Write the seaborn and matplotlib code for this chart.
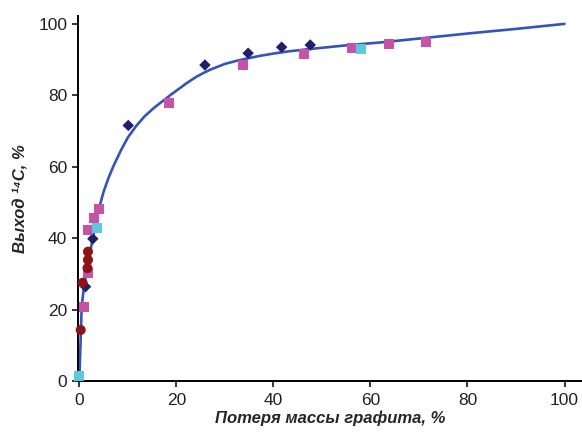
import matplotlib
matplotlib.use("Agg")
import matplotlib.pyplot as plt
import seaborn as sns
import pandas as pd

# fitted curve
curve_x = [0, 0.15, 0.35, 0.5, 0.8, 1.2, 1.6, 2, 2.7, 3.3, 4, 5, 6, 7, 8.5, 10,
           11.7, 13.5, 15.3, 17, 18.8, 20.5, 22, 24, 25.5, 27, 30, 32.5, 34.5,
           37, 40, 43, 47, 55, 62, 70, 80, 90, 100]
curve_y = [0, 6, 14.4, 20.8, 24.5, 28.4, 31.6, 34.4, 39.5, 43.5, 48, 53, 56.8,
           60.1, 64.4, 68.2, 71.4, 74.2, 76.4, 78.2, 80.1, 81.8, 83.3, 85.1, 86.2,
           87.2, 88.8, 89.7, 90.3, 91.0, 91.7, 92.3, 92.9, 94.0, 94.8, 95.9,
           97.3, 98.6, 100]

# experimental series
navy_x = [1.3, 2.8, 10.1, 25.9, 34.8, 41.7, 47.6]
navy_y = [26.5, 39.9, 71.6, 88.5, 91.8, 93.5, 94.1]

pink_x = [1.0, 1.8, 1.9, 3.1, 4.1, 18.4, 33.8, 46.4, 56.2, 63.9, 71.5]
pink_y = [20.8, 30.3, 42.4, 45.7, 48.2, 78.0, 88.5, 91.6, 93.2, 94.4, 95.0]

red_x = [0.3, 0.7, 1.7, 1.8, 1.8]
red_y = [14.4, 27.6, 31.7, 34.0, 36.3]

cyan_x = [0.0, 3.6, 58.0]
cyan_y = [1.5, 42.9, 92.9]

x_ticks = [0, 20, 40, 60, 80, 100]
y_ticks = [0, 20, 40, 60, 80, 100]

sns.set_style("ticks")
plt.rcParams['font.family'] = ['Liberation Sans', 'DejaVu Sans']

fig = plt.figure(figsize=(5.82, 4.33), dpi=100)
ax = fig.add_axes([0.1345, 0.119, 0.8655, 0.844])

sns.lineplot(x=curve_x, y=curve_y, ax=ax, color='#3553b8', linewidth=1.9,
             sort=False, estimator=None, zorder=2)

sns.scatterplot(x=navy_x, y=navy_y, ax=ax, marker='D', s=34, color='#1f1f6b',
                edgecolor='none', zorder=3, clip_on=False)
sns.scatterplot(x=pink_x, y=pink_y, ax=ax, marker='s', s=52, color='#c653a6',
                edgecolor='none', zorder=4, clip_on=False)
sns.scatterplot(x=red_x, y=red_y, ax=ax, marker='o', s=52, color='#8c1414',
                edgecolor='none', zorder=5, clip_on=False)
sns.scatterplot(x=cyan_x, y=cyan_y, ax=ax, marker='s', s=52, color='#5ec8dc',
                edgecolor='none', zorder=6, clip_on=False)

ax.set_xlim(-0.2, 103.6)
ax.set_ylim(0, 102.2)
ax.set_xticks(x_ticks)
ax.set_yticks(y_ticks)
ax.tick_params(axis='both', labelsize=12.5, labelcolor='#222222', length=4,
               width=1.3, direction='out', pad=4)

for side in ['top', 'right']:
    ax.spines[side].set_visible(False)
for side in ['left', 'bottom']:
    ax.spines[side].set_linewidth(1.4)
    ax.spines[side].set_color('black')

ax.set_xlabel('Потеря массы графита, %', fontsize=12, fontweight='bold',
              fontstyle='italic', labelpad=2)
ax.set_ylabel('Выход ¹⁴C, %', fontsize=12, fontweight='bold',
              fontstyle='italic', labelpad=7)

fig.savefig('out.png', dpi=100, facecolor='white')
